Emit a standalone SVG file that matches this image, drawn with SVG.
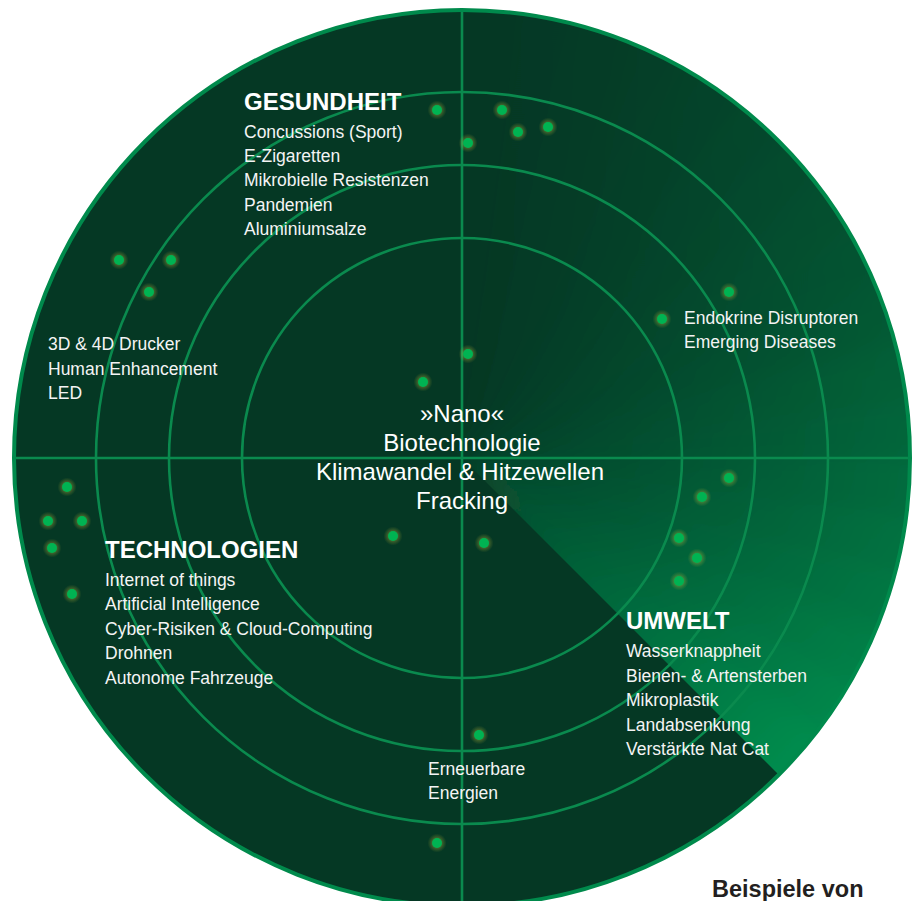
<svg xmlns="http://www.w3.org/2000/svg" xmlns:xlink="http://www.w3.org/1999/xlink" width="918" height="901" viewBox="0 0 918 901">
<defs>
<style>
.ring{fill:none;stroke:#0a8a4e;stroke-width:2.6}
.axis{stroke:#0a8a4e;stroke-width:2.6;fill:none}
.t{font-family:"Liberation Sans",Arial,Helvetica,sans-serif;fill:#f4f4f4;font-size:17.5px}
.h{font-family:"Liberation Sans",Arial,Helvetica,sans-serif;fill:#ffffff;font-size:24px;font-weight:bold}
.c{font-family:"Liberation Sans",Arial,Helvetica,sans-serif;fill:#ffffff;font-size:24px;text-anchor:middle}
.cap{font-family:"Liberation Sans",Arial,Helvetica,sans-serif;fill:#231f20;font-size:23.5px;font-weight:bold}
.dot{fill:#00b352}
.glow{fill:url(#glow)}
.sw{fill:url(#sw)}
</style>
<radialGradient id="glow">
<stop offset="0.5" stop-color="#c9c640" stop-opacity="0.32"/>
<stop offset="1" stop-color="#b8b030" stop-opacity="0"/>
</radialGradient>
<radialGradient id="sw" gradientUnits="userSpaceOnUse" cx="462" cy="458" r="450">
<stop offset="0" stop-color="#0a4a2e"/>
<stop offset="1" stop-color="#009150"/>
</radialGradient>
<clipPath id="cc"><circle cx="462" cy="458" r="448"/></clipPath>
<clipPath id="half"><polygon points="-538,-542 1462,1458 1462,-542"/></clipPath>
<filter id="blur" filterUnits="userSpaceOnUse" x="-300" y="-400" width="1600" height="1600">
<feGaussianBlur stdDeviation="12"/>
</filter>
<g id="d"><circle r="9.5" class="glow"/><circle r="5" class="dot"/></g>
</defs>

<g id="radar-background">
<circle cx="462" cy="458" r="448" fill="#053824"/>
</g>

<g id="sweep" clip-path="url(#cc)">
<g clip-path="url(#half)" filter="url(#blur)">
<path class="sw" fill-opacity="0.667" d="M462,458 L863.5,1031.4 A700,700 0 0 0 1017.4,884.2 Z"/>
<path class="sw" fill-opacity="0.40" d="M462,458 L863.5,1031.4 A700,700 0 0 0 1068.2,808 Z"/>
<path class="sw" fill-opacity="0.286" d="M462,458 L863.5,1031.4 A700,700 0 0 0 1108.7,725.9 Z"/>
<path class="sw" fill-opacity="0.20" d="M462,458 L863.5,1031.4 A700,700 0 0 0 1138.1,639.2 Z"/>
<path class="sw" fill-opacity="0.167" d="M462,458 L863.5,1031.4 A700,700 0 0 0 1156,549.4 Z"/>
<path class="sw" fill-opacity="0.143" d="M462,458 L863.5,1031.4 A700,700 0 0 0 1162,458 Z"/>
<path class="sw" fill-opacity="0.109" d="M462,458 L863.5,1031.4 A700,700 0 0 0 1156,366.6 Z"/>
<path class="sw" fill-opacity="0.113" d="M462,458 L863.5,1031.4 A700,700 0 0 0 1138.1,276.8 Z"/>
<path class="sw" fill-opacity="0.088" d="M462,458 L863.5,1031.4 A700,700 0 0 0 1108.7,190.1 Z"/>
<path class="sw" fill-opacity="0.068" d="M462,458 L863.5,1031.4 A700,700 0 0 0 1068.2,108 Z"/>
<path class="sw" fill-opacity="0.064" d="M462,458 L863.5,1031.4 A700,700 0 0 0 1017.4,31.8 Z"/>
<path class="sw" fill-opacity="0.060" d="M462,458 L863.5,1031.4 A700,700 0 0 0 957,-37 Z"/>
<path class="sw" fill-opacity="0.051" d="M462,458 L863.5,1031.4 A700,700 0 0 0 888.2,-97.4 Z"/>
<path class="sw" fill-opacity="0.043" d="M462,458 L863.5,1031.4 A700,700 0 0 0 812,-148.2 Z"/>
<path class="sw" fill-opacity="0.036" d="M462,458 L863.5,1031.4 A700,700 0 0 0 729.9,-188.7 Z"/>
<path class="sw" fill-opacity="0.029" d="M462,458 L863.5,1031.4 A700,700 0 0 0 643.2,-218.1 Z"/>
<path class="sw" fill-opacity="0.024" d="M462,458 L863.5,1031.4 A700,700 0 0 0 553.4,-236 Z"/>
</g>
</g>

<g id="grid" clip-path="url(#cc)">
<circle class="ring" cx="462" cy="458" r="220"/>
<circle class="ring" cx="462" cy="458" r="293"/>
<circle class="ring" cx="462" cy="458" r="366"/>
<line class="axis" x1="462" y1="0" x2="462" y2="910"/>
<line class="axis" x1="10" y1="458" x2="914" y2="458"/>
</g>

<g id="outline">
<circle cx="462" cy="458" r="448" fill="none" stroke="#008a4c" stroke-width="4"/>
</g>

<g id="dots">
<use xlink:href="#d" x="437" y="110"/>
<use xlink:href="#d" x="502" y="110"/>
<use xlink:href="#d" x="518" y="132"/>
<use xlink:href="#d" x="548" y="127"/>
<use xlink:href="#d" x="468" y="143"/>
<use xlink:href="#d" x="119" y="260"/>
<use xlink:href="#d" x="171" y="260"/>
<use xlink:href="#d" x="149" y="292"/>
<use xlink:href="#d" x="729" y="292"/>
<use xlink:href="#d" x="662" y="319"/>
<use xlink:href="#d" x="468" y="354"/>
<use xlink:href="#d" x="423" y="382"/>
<use xlink:href="#d" x="729" y="478"/>
<use xlink:href="#d" x="702" y="497"/>
<use xlink:href="#d" x="679" y="538"/>
<use xlink:href="#d" x="697" y="558"/>
<use xlink:href="#d" x="679" y="581"/>
<use xlink:href="#d" x="393" y="536"/>
<use xlink:href="#d" x="484" y="543"/>
<use xlink:href="#d" x="67" y="487"/>
<use xlink:href="#d" x="48" y="521"/>
<use xlink:href="#d" x="82" y="521"/>
<use xlink:href="#d" x="52" y="548"/>
<use xlink:href="#d" x="72" y="594"/>
<use xlink:href="#d" x="479" y="735"/>
<use xlink:href="#d" x="437" y="843"/>
</g>

<g id="gesundheit">
<text class="h" x="244" y="110">GESUNDHEIT</text>
<text class="t" x="244" y="138">Concussions (Sport)</text>
<text class="t" x="244" y="162">E-Zigaretten</text>
<text class="t" x="244" y="186">Mikrobielle Resistenzen</text>
<text class="t" x="244" y="211">Pandemien</text>
<text class="t" x="244" y="235">Aluminiumsalze</text>
</g>

<g id="technologie-upper">
<text class="t" x="48" y="350">3D &amp; 4D Drucker</text>
<text class="t" x="48" y="375">Human Enhancement</text>
<text class="t" x="48" y="399">LED</text>
</g>

<g id="gesundheit-right">
<text class="t" x="684" y="324">Endokrine Disruptoren</text>
<text class="t" x="684" y="348">Emerging Diseases</text>
</g>

<g id="center">
<text class="c" x="462" y="422">»Nano«</text>
<text class="c" x="462" y="451">Biotechnologie</text>
<text class="c" x="460" y="480">Klimawandel &amp; Hitzewellen</text>
<text class="c" x="462" y="509">Fracking</text>
</g>

<g id="technologien">
<text class="h" x="105" y="558">TECHNOLOGIEN</text>
<text class="t" x="105" y="586">Internet of things</text>
<text class="t" x="105" y="610">Artificial Intelligence</text>
<text class="t" x="105" y="635">Cyber-Risiken &amp; Cloud-Computing</text>
<text class="t" x="105" y="659">Drohnen</text>
<text class="t" x="105" y="684">Autonome Fahrzeuge</text>
</g>

<g id="umwelt">
<text class="h" x="626" y="629">UMWELT</text>
<text class="t" x="626" y="657">Wasserknappheit</text>
<text class="t" x="626" y="682">Bienen- &amp; Artensterben</text>
<text class="t" x="626" y="706">Mikroplastik</text>
<text class="t" x="626" y="731">Landabsenkung</text>
<text class="t" x="626" y="755">Verstärkte Nat Cat</text>
</g>

<g id="energie">
<text class="t" x="428" y="775">Erneuerbare</text>
<text class="t" x="428" y="799">Energien</text>
</g>

<g id="caption">
<text class="cap" x="712" y="897">Beispiele von</text>
</g>
</svg>
